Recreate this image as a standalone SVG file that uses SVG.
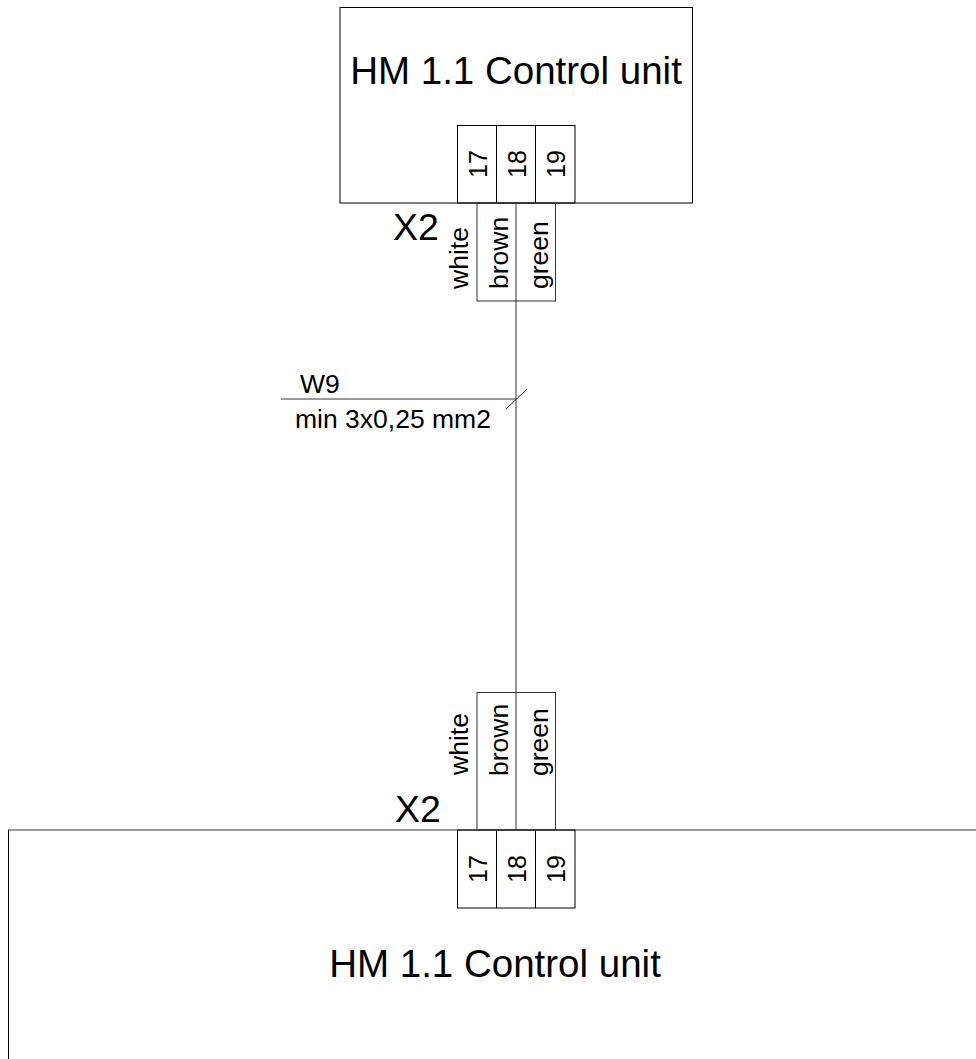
<svg xmlns="http://www.w3.org/2000/svg" width="976" height="1059" viewBox="0 0 976 1059">
<style>
.l{fill:none;stroke:#000;stroke-width:1}
.g{fill:none;stroke:#333;stroke-width:1}
text{font-family:"Liberation Sans",Arial,sans-serif;fill:#000}
.t{font-size:38.500px}
.x{font-size:37.500px}
.n{font-size:25px}
.w{font-size:26.500px}
</style>
<rect width="976" height="1059" fill="#fff"/>
<g id="top-unit">
<rect class="l" x="340" y="7.500" width="352.500" height="195.500"/>
<text class="t" x="516" y="84" text-anchor="middle">HM 1.1 Control unit</text>
</g>
<g id="top-terminals">
<rect class="l" x="457.500" y="125.500" width="117.500" height="77.500"/>
<path class="l" d="M496.500 125.500V203M535.500 125.500V203"/>
<text class="n" transform="translate(487 164) rotate(-90)" text-anchor="middle">17</text>
<text class="n" transform="translate(526 164) rotate(-90)" text-anchor="middle">18</text>
<text class="n" transform="translate(565 164) rotate(-90)" text-anchor="middle">19</text>
</g>
<g id="top-x2"><text class="x" x="393" y="240">X2</text></g>
<g id="top-wires">
<rect class="g" x="477" y="203" width="78.500" height="98"/>
<text class="w" transform="translate(468 289) rotate(-90)">white</text>
<text class="w" transform="translate(508 289) rotate(-90)">brown</text>
<text class="w" transform="translate(548 289) rotate(-90)">green</text>
</g>
<g id="bottom-unit">
<path class="l" d="M8.500 1059V830"/>
<path class="g" d="M8 830H976"/>
<text class="t" x="495" y="977" text-anchor="middle">HM 1.1 Control unit</text>
</g>
<g id="bottom-terminals">
<rect class="l" x="457.500" y="830" width="117.500" height="78"/>
<path class="l" d="M496.500 830V908M535.500 830V908"/>
<text class="n" transform="translate(487 869) rotate(-90)" text-anchor="middle">17</text>
<text class="n" transform="translate(526 869) rotate(-90)" text-anchor="middle">18</text>
<text class="n" transform="translate(565 869) rotate(-90)" text-anchor="middle">19</text>
</g>
<g id="bottom-x2"><text class="x" x="395" y="822">X2</text></g>
<g id="bottom-wires">
<rect class="g" x="477" y="692.500" width="78.500" height="137.500"/>
<text class="w" transform="translate(468 775) rotate(-90)">white</text>
<text class="w" transform="translate(508 776) rotate(-90)">brown</text>
<text class="w" transform="translate(548 776) rotate(-90)">green</text>
</g>
<g id="connectors">
<path class="g" d="M516 203V830"/>
<path class="g" d="M281 399H516"/>
<path class="g" d="M506 409L527 389"/>
</g>
<g id="cable-label">
<text class="w" x="300" y="393">W9</text>
<text class="w" x="295" y="428">min 3x0,25 mm2</text>
</g>
</svg>
